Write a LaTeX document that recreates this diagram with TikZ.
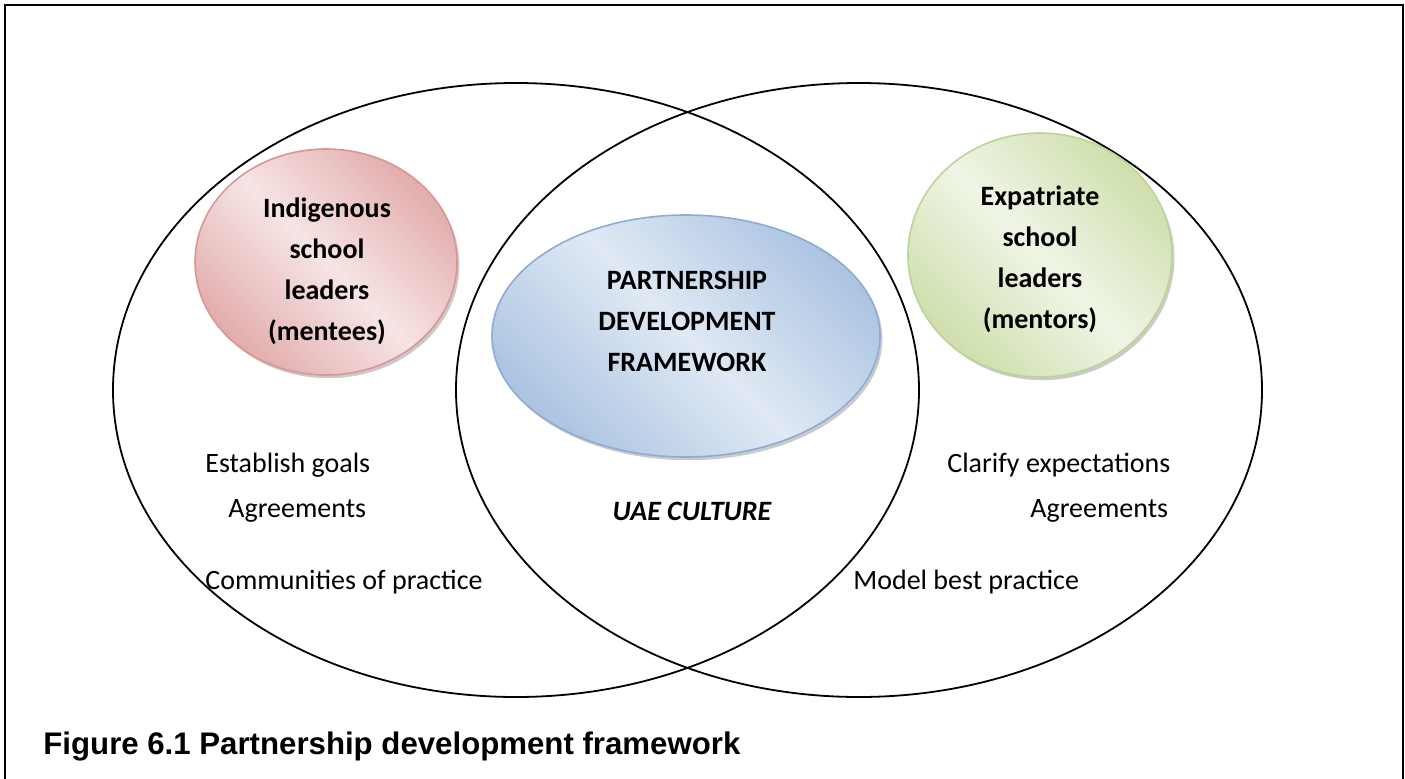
\documentclass[tikz,border=0pt]{standalone}
\usepackage{fontspec}
\setmainfont{Carlito}
\newfontfamily\capfont{Liberation Sans}
\usepackage{tikz}
\usetikzlibrary{shapes.geometric,shadows}

\definecolor{redline}{RGB}{218,150,148}
\definecolor{reddark}{RGB}{226,172,172}
\definecolor{redlight}{RGB}{246,228,228}
\definecolor{blueline}{RGB}{140,172,212}
\definecolor{bluedark}{RGB}{172,196,226}
\definecolor{bluelight}{RGB}{224,233,244}
\definecolor{greenline}{RGB}{190,212,150}
\definecolor{greendark}{RGB}{206,223,172}
\definecolor{greenlight}{RGB}{240,245,230}

\begin{document}
\begin{tikzpicture}[x=0.5pt,y=-0.5pt]
	\tikzstyle{ring}=[line width=0.9pt]
	\tikzstyle{leader}=[ellipse, thick, inner sep=0pt, drop shadow={shadow xshift=1.2pt, shadow yshift=-1.6pt, opacity=0.35, fill=black!60}]
	\tikzstyle{tilt}=[shading angle=-45]
	\tikzstyle{lbl}=[align=center, inner sep=0pt, font=\fontsize{14}{20.5}\selectfont\bfseries]
	\tikzstyle{note}=[anchor=west, inner sep=0pt, font=\fontsize{14}{17}\selectfont]

	\useasboundingbox (0,0) rectangle (1405,778);
	\draw[line width=1.2pt] (5,800) -- (5,5) -- (1403,5) -- (1403,800);

	% the two big circles
	\draw[ring] (516,390) ellipse [x radius=403, y radius=307];
	\draw[ring] (859,390) ellipse [x radius=403, y radius=307];

	% groups
	\node[leader, draw=redline, top color=reddark, bottom color=reddark, middle color=redlight, tilt, minimum width=131pt, minimum height=113pt] (indig) at (326,262) {};
	\node[lbl] (indigT) at (327,271) {Indigenous\\school\\leaders\\(mentees)};
	\node[leader, draw=blueline, top color=bluedark, bottom color=bluedark, middle color=bluelight, tilt, minimum width=194pt, minimum height=121pt] (partner) at (686,336) {};
	\node[lbl] (partnerT) at (687,321) {PARTNERSHIP\\DEVELOPMENT\\FRAMEWORK};
	\node[leader, draw=greenline, top color=greendark, bottom color=greendark, middle color=greenlight, tilt, minimum width=132pt, minimum height=122pt] (expat) at (1040,255) {};
	\node[lbl] (expatT) at (1040,259) {Expatriate\\school\\leaders\\(mentors)};

	% texts
	\node[note] (goalsL) at (205,465) {Establish goals};
	\node[note] (agreeL) at (228,511) {Agreements};
	\node[note] (commL) at (205,582) {Communities of practice};
	\node[inner sep=0pt, font=\fontsize{14}{17}\selectfont\bfseries\itshape] (culture) at (692,511) {UAE CULTURE};
	\node[note] (clarifyR) at (947,465) {Clarify expectations};
	\node[note] (agreeR) at (1030,511) {Agreements};
	\node[note] (modelR) at (853,582) {Model best practice};

	\node[anchor=west, inner sep=0pt, font=\capfont\fontsize{15.6}{18}\selectfont\bfseries] (caption) at (43,746) {Figure 6.1 Partnership development framework};
\end{tikzpicture}
\end{document}
